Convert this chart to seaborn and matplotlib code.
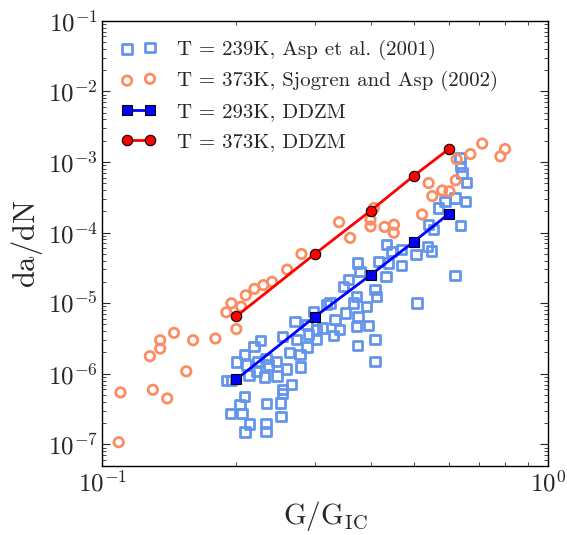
import numpy as np
import pandas as pd
import matplotlib
matplotlib.use("Agg")
import matplotlib.pyplot as plt
import matplotlib.ticker as mticker
import seaborn as sns

# ---- data ----
asp_x = [0.190, 0.195, 0.194, 0.206, 0.204, 0.2085, 0.209, 0.214, 0.200, 0.2085,
         0.219, 0.2265, 0.211, 0.2136, 0.2235, 0.231, 0.236, 0.233, 0.2464, 0.247,
         0.259, 0.254, 0.263, 0.266, 0.2537, 0.2535, 0.251, 0.252, 0.234, 0.233,
         0.233, 0.273, 0.278, 0.279, 0.288, 0.271, 0.288, 0.303, 0.3125, 0.3245,
         0.330, 0.290, 0.298, 0.303, 0.319, 0.333, 0.3405, 0.351, 0.357, 0.366,
         0.374, 0.375, 0.392, 0.3955, 0.409, 0.409, 0.374, 0.409, 0.372, 0.372,
         0.3475, 0.379, 0.4165, 0.433, 0.4385, 0.434, 0.446, 0.470, 0.470, 0.506,
         0.536, 0.5485, 0.508, 0.539, 0.553, 0.5675, 0.5875, 0.619, 0.654, 0.637,
         0.619, 0.641, 0.657, 0.635, 0.637, 0.413, 0.222]
asp_y = [8.0e-7, 8.0e-7, 2.74e-7, 2.74e-7, 3.66e-7, 4.71e-7, 1.49e-7, 1.95e-7, 1.47e-6, 1.87e-6,
         2.45e-6, 2.98e-6, 1.32e-6, 9.64e-7, 1.48e-6, 9.04e-7, 1.32e-6, 1.63e-6, 1.50e-6, 9.22e-7,
         1.16e-6, 3.39e-6, 2.01e-6, 7.03e-7, 5.98e-7, 5.20e-7, 3.87e-7, 2.48e-7, 3.79e-7, 1.97e-7,
         1.51e-7, 3.05e-6, 1.87e-6, 1.24e-6, 2.40e-6, 5.53e-6, 4.97e-6, 3.05e-6, 4.46e-6, 1.01e-5,
         3.47e-6, 3.58e-6, 7.66e-6, 4.22e-6, 9.52e-6, 5.85e-6, 4.22e-6, 7.26e-6, 2.15e-5, 1.01e-5,
         3.70e-5, 6.50e-6, 9.01e-6, 4.81e-6, 1.55e-5, 3.05e-6, 2.51e-6, 1.50e-6, 4.70e-6, 1.25e-5,
         1.73e-5, 2.82e-5, 3.90e-5, 2.39e-5, 3.70e-5, 6.72e-5, 5.41e-5, 5.71e-5, 3.43e-5, 4.85e-5,
         6.35e-5, 5.50e-5, 1.01e-5, 1.29e-4, 1.10e-4, 2.22e-4, 2.75e-4, 3.08e-4, 2.75e-4, 1.25e-4,
         2.45e-5, 6.95e-4, 5.11e-4, 1.13e-3, 8.61e-4, 1.25e-5, 1.08e-6]

sjo_x = [0.109, 0.110, 0.128, 0.130, 0.135, 0.135, 0.140, 0.145, 0.1545, 0.160,
         0.1795, 0.190, 0.195, 0.205, 0.200, 0.210, 0.2196, 0.230, 0.2405, 0.260,
         0.280, 0.340, 0.360, 0.400, 0.400, 0.407, 0.430, 0.4516, 0.4508, 0.522,
         0.540, 0.550, 0.579, 0.601, 0.621, 0.624, 0.670, 0.712, 0.782, 0.801]
sjo_y = [1.07e-7, 5.42e-7, 1.77e-6, 5.92e-7, 2.98e-6, 2.27e-6, 4.46e-7, 3.79e-6, 1.08e-6, 2.98e-6,
         3.15e-6, 7.41e-6, 9.93e-6, 8.91e-6, 4.29e-6, 1.29e-5, 1.59e-5, 1.80e-5, 2.00e-5, 2.98e-5,
         4.97e-5, 1.40e-4, 8.39e-5, 1.52e-4, 1.22e-4, 2.22e-4, 1.20e-4, 1.29e-4, 9.93e-5, 1.80e-4,
         5.01e-4, 3.28e-4, 3.94e-4, 3.84e-4, 5.49e-4, 1.09e-3, 1.29e-3, 1.82e-3, 1.20e-3, 1.52e-3]

ddzm_g = [0.2, 0.3, 0.4, 0.5, 0.6]
ddzm_293 = [8.3e-7, 6.4e-6, 2.5e-5, 7.4e-5, 1.85e-4]
ddzm_373 = [6.5e-6, 4.97e-5, 2.03e-4, 6.35e-4, 1.53e-3]

labels = ["T = 239K, Asp et al. (2001)",
          "T = 373K, Sjogren and Asp (2002)",
          "T = 293K, DDZM",
          "T = 373K, DDZM"]

# ---- style ----
sns.set_style("ticks")
plt.rcParams.update({
    "font.family": "serif",
    "font.serif": ["cmr10", "DejaVu Serif"],
    "mathtext.fontset": "cm",
    "axes.formatter.use_mathtext": True,
    "axes.unicode_minus": False,
})

fig = plt.figure(figsize=(5.67, 5.35), dpi=100)
ax = fig.add_axes([0.180, 0.129, 0.7865, 0.8323])

df_asp = pd.DataFrame({"G": asp_x, "dadN": asp_y})
df_sjo = pd.DataFrame({"G": sjo_x, "dadN": sjo_y})
df_dd = pd.DataFrame({"G": ddzm_g, "d293": ddzm_293, "d373": ddzm_373})

sns.scatterplot(data=df_asp, x="G", y="dadN", ax=ax, marker="s", s=46,
                facecolors="none", edgecolor="#6495ED", linewidth=2.0,
                label=labels[0], zorder=2)
sns.scatterplot(data=df_sjo, x="G", y="dadN", ax=ax, marker="o", s=46,
                facecolors="none", edgecolor="#FC8D62", linewidth=2.0,
                label=labels[1], zorder=2)
sns.lineplot(data=df_dd, x="G", y="d293", ax=ax, color="#0000FF", lw=2,
             marker="s", markersize=7.5, markerfacecolor="#0000FF",
             markeredgecolor="black", markeredgewidth=0.8, label=labels[2], zorder=3)
sns.lineplot(data=df_dd, x="G", y="d373", ax=ax, color="#FF0000", lw=2,
             marker="o", markersize=7.5, markerfacecolor="#FF0000",
             markeredgecolor="black", markeredgewidth=0.8, label=labels[3], zorder=3)

ax.set_xscale("log")
ax.set_yscale("log")
ax.set_xlim(0.1, 1.0)
ax.set_ylim(4.93e-8, 1e-1)
ax.xaxis.set_minor_formatter(mticker.NullFormatter())
ax.yaxis.set_minor_formatter(mticker.NullFormatter())
ax.yaxis.set_major_locator(mticker.LogLocator(base=10, numticks=20))
ax.yaxis.set_minor_locator(mticker.LogLocator(base=10, subs=np.arange(2, 10), numticks=20))

ax.set_xlabel(r"$\mathrm{G/G_{IC}}$", fontsize=21, labelpad=2)
ax.set_ylabel(r"$\mathrm{da/dN}$", fontsize=22, labelpad=2)

ax.tick_params(which="both", direction="in", top=True, right=True)
ax.tick_params(which="major", length=6, width=0.8, labelsize=18, pad=3)
ax.tick_params(which="minor", length=3, width=0.6)
for sp in ax.spines.values():
    sp.set_linewidth(1.0)
    sp.set_color("black")

handles, labs = ax.get_legend_handles_labels()
ax.legend(handles, labs, loc="upper left", frameon=False, fontsize=15,
          numpoints=2, scatterpoints=2, handlelength=1.7, handletextpad=1.0,
          labelspacing=0.55, borderaxespad=0.5, bbox_to_anchor=(0.0, 1.0))

fig.savefig("out.png", dpi=100)
